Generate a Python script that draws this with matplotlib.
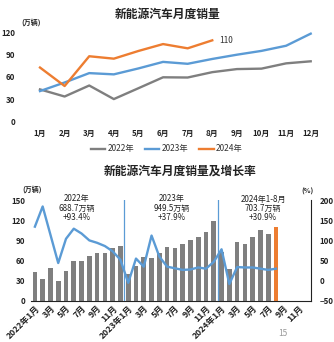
import matplotlib
matplotlib.use("Agg")
import matplotlib.pyplot as plt

plt.rcParams['font.family'] = ['Noto Sans CJK SC', 'DejaVu Sans']

# top chart data (万辆)
months = ["1月", "2月", "3月", "4月", "5月", "6月", "7月", "8月", "9月", "10月", "11月", "12月"]
sales2022 = [43.1, 33.4, 48.4, 29.9, 44.7, 59.6, 59.3, 66.6, 70.8, 71.4, 78.6, 81.4]
sales2023 = [40.8, 52.5, 65.3, 63.6, 71.7, 80.6, 78.0, 84.6, 90.4, 95.6, 102.6, 119.1]
sales2024 = [72.9, 47.7, 88.3, 85.0, 95.5, 104.9, 99.1, 110.0]

# bottom chart data: growth rate (%)
growth2022 = [134, 184, 114, 44, 104, 129, 117, 100, 94, 86, 73, 52]
growth2023 = [-5, 55, 35, 112, 60, 35, 31, 27, 28, 33, 30, 47]
growth2024 = [78, -8, 34, 33, 33, 30, 27, 30]

tick_labels = ["2022年1月", "3月", "5月", "7月", "9月", "11月",
               "2023年1月", "3月", "5月", "7月", "9月", "11月",
               "2024年1月", "3月", "5月", "7月", "9月", "11月"]

notes = ["2022年\n688.7万辆\n+93.4%", "2023年\n949.5万辆\n+37.9%", "2024年1-8月\n703.7万辆\n+30.9%"]

GRAY = '#7f7f7f'
BLUE = '#5b9bd5'
ORANGE = '#ed7d31'

W, H = 334, 342
fig = plt.figure(figsize=(W / 100, H / 100), dpi=100)

def box(l, t, r, b):
    return [l / W, 1 - b / H, (r - l) / W, (b - t) / H]

# ---------- top chart ----------
ax1 = fig.add_axes(box(27.7, 33, 323, 121))
x = list(range(12))
ax1.plot(x, sales2022, color=GRAY, lw=1.7, label="2022年", clip_on=False)
ax1.plot(x, sales2023, color=BLUE, lw=1.7, label="2023年", clip_on=False)
ax1.plot(range(len(sales2024)), sales2024, color=ORANGE, lw=1.7, label="2024年", clip_on=False)
ax1.text(len(sales2024) - 1 + 0.3, sales2024[-1], "%d" % sales2024[-1],
         fontsize=6, va='center', ha='left', color='#333333')
ax1.set_xlim(-0.5, 11.5)
ax1.set_ylim(0, 120)
ax1.set_yticks([0, 30, 60, 90, 120])
ax1.set_xticks(x)
ax1.set_xticklabels(months)
for s in ax1.spines.values():
    s.set_visible(False)
ax1.tick_params(axis='both', length=0, labelsize=5.7, colors='#222222')
ax1.tick_params(axis='y', pad=9)
ax1.tick_params(axis='x', pad=6)
for t in ax1.get_xticklabels() + ax1.get_yticklabels():
    t.set_fontweight('bold')
ax1.legend(loc='center', bbox_to_anchor=(167 / W, 1 - 149 / H), bbox_transform=fig.transFigure,
           ncol=3, frameon=False, fontsize=6, handlelength=1.7, handletextpad=0.3,
           columnspacing=1.3, labelcolor='#333333')
fig.text(168 / W, 1 - 14 / H, "新能源汽车月度销量", fontsize=8.5, fontweight='bold',
         ha='center', va='center', color='#222222')
fig.text(31 / W, 1 - 22 / H, "(万辆)", fontsize=5, fontweight='bold', ha='center', va='center',
         color='#222222')

# ---------- bottom chart ----------
ax2 = fig.add_axes(box(31, 200, 311, 301))
sales_all = sales2022 + sales2023 + sales2024
growth_all = growth2022 + growth2023 + growth2024
xs = list(range(len(sales_all)))
colors = [GRAY] * (len(sales_all) - 1) + [ORANGE]
ax2.bar(xs, sales_all, width=0.6, color=colors, zorder=2)
ax2.set_xlim(-0.5, 35.5)
ax2.set_ylim(0, 150)
ax2.set_yticks([0, 30, 60, 90, 120, 150])
ax2.set_xticks(range(0, 36, 2))
ax2.set_xticklabels(tick_labels, rotation=45, ha='right', rotation_mode='anchor')
for xv in [11.5, 23.5]:
    ax2.axvline(xv, color=BLUE, lw=0.9, zorder=3)

ax3 = ax2.twinx()
ax3.plot(xs, growth_all, color=BLUE, lw=1.7, zorder=4)
ax3.set_ylim(-50, 200)
ax3.set_yticks([-50, 0, 50, 100, 150, 200])

for a in (ax2, ax3):
    for s in a.spines.values():
        s.set_visible(False)
    a.tick_params(length=0, labelsize=5.7, colors='#222222')
ax2.spines['bottom'].set_visible(True)
ax2.spines['bottom'].set_color('#222222')
ax2.spines['bottom'].set_linewidth(0.8)
ax3.spines['right'].set_visible(True)
ax3.spines['right'].set_color('#222222')
ax3.spines['right'].set_linewidth(0.8)
ax2.tick_params(axis='y', pad=4)
ax2.tick_params(axis='x', pad=2, labelsize=6.2)
ax3.tick_params(axis='y', pad=6)
for t in ax2.get_xticklabels() + ax2.get_yticklabels() + ax3.get_yticklabels():
    t.set_fontweight('bold')

note_x = [77, 172, 263]
for nx, note in zip(note_x, notes):
    fig.text(nx / W, 1 - 208 / H, note, fontsize=5.8, ha='center', va='center',
             linespacing=1.0, color='#222222')

fig.text(180 / W, 1 - 171 / H, "新能源汽车月度销量及增长率", fontsize=8.5, fontweight='bold',
         ha='center', va='center', color='#222222')
fig.text(32 / W, 1 - 189 / H, "(万辆)", fontsize=5, fontweight='bold', ha='center', va='center',
         color='#222222')
fig.text(308 / W, 1 - 191 / H, "(%)", fontsize=5, fontweight='bold', ha='center', va='center',
         color='#222222')
fig.text(283 / W, 1 - 334 / H, "15", fontsize=6, ha='center', va='center', color='#999999')

fig.savefig("out.png", dpi=100)
